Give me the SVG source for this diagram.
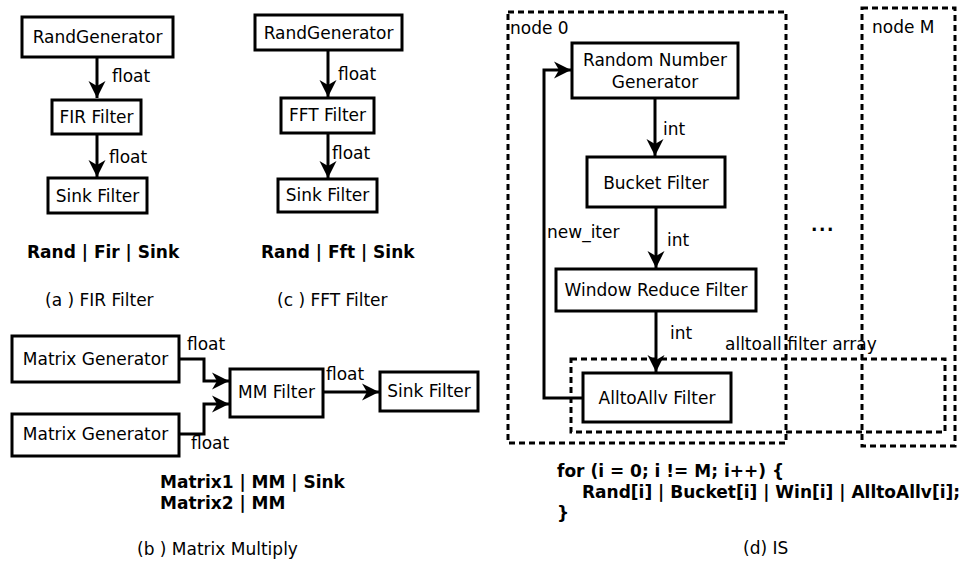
<svg xmlns="http://www.w3.org/2000/svg" width="974" height="567" viewBox="0 0 974 567">
<style>
text{font-family:"DejaVu Sans",sans-serif;font-size:17px;fill:#000}
.b{font-weight:bold}
.c{text-anchor:middle}
.box{fill:#fff;stroke:#000;stroke-width:3}
.dash{fill:none;stroke:#000;stroke-width:3;stroke-dasharray:6,4}
.edge{fill:none;stroke:#000;stroke-width:3}
</style>
<defs>
<marker id="ah" markerUnits="userSpaceOnUse" viewBox="-18 -9 19 18" refX="0" refY="0" markerWidth="19" markerHeight="18" orient="auto">
<path d="M0,0 L-17,-8.5 L-12,0 L-17,8.5 Z" fill="#000"/>
</marker>
</defs>
<rect width="974" height="567" fill="#fff"/>

<!-- panel d containers -->
<g id="node0">
<rect class="dash" x="508" y="12" width="278" height="431"/>
<text x="510" y="34">node 0</text>
</g>
<g id="nodeM">
<rect class="dash" x="862" y="8" width="93" height="438"/>
<text x="872" y="33">node M</text>
</g>
<g id="alltoall-array">
<rect class="dash" x="571" y="359" width="374" height="73"/>
<text x="725" y="350">alltoall filter array</text>
</g>
<text class="b" x="811" y="231" font-size="28" letter-spacing="1.5">...</text>

<g id="connectors">
<line class="edge" x1="97" y1="58" x2="97" y2="98" marker-end="url(#ah)"/>
<line class="edge" x1="97" y1="135" x2="97" y2="177" marker-end="url(#ah)"/>
<line class="edge" x1="328" y1="51" x2="328" y2="97" marker-end="url(#ah)"/>
<line class="edge" x1="328" y1="134" x2="328" y2="178" marker-end="url(#ah)"/>
<polyline class="edge" points="180,359 204,359 204,381 229,381" marker-end="url(#ah)"/>
<polyline class="edge" points="180,434 204,434 204,404 229,404" marker-end="url(#ah)"/>
<line class="edge" x1="324" y1="392" x2="379" y2="392" marker-end="url(#ah)"/>
<line class="edge" x1="655" y1="99" x2="655" y2="156" marker-end="url(#ah)"/>
<line class="edge" x1="656" y1="208" x2="656" y2="268" marker-end="url(#ah)"/>
<line class="edge" x1="656" y1="312" x2="656" y2="372" marker-end="url(#ah)"/>
<polyline class="edge" points="583,398 544,398 544,70 571,70" marker-end="url(#ah)"/>
<text x="112" y="82">float</text>
<text x="109" y="163">float</text>
<text x="338" y="80">float</text>
<text x="332" y="159">float</text>
<text x="187" y="350">float</text>
<text x="191" y="449">float</text>
<text x="326" y="380">float</text>
<text x="663" y="135">int</text>
<text x="667" y="246">int</text>
<text x="670" y="339">int</text>
<text x="547" y="238">new_iter</text>
</g>

<!-- panel a -->
<g id="a-rand"><rect class="box" x="22" y="17" width="151" height="40"/><text class="c" x="97.5" y="43">RandGenerator</text></g>
<g id="a-fir"><rect class="box" x="52" y="100" width="89" height="34"/><text class="c" x="96.5" y="123">FIR Filter</text></g>
<g id="a-sink"><rect class="box" x="48" y="178" width="99" height="35"/><text class="c" x="97.5" y="202">Sink Filter</text></g>
<text class="b" x="27" y="258">Rand | Fir | Sink</text>
<text x="45" y="306">(a ) FIR Filter</text>

<!-- panel c -->
<g id="c-rand"><rect class="box" x="255" y="15" width="147" height="35"/><text class="c" x="328.5" y="39">RandGenerator</text></g>
<g id="c-fft"><rect class="box" x="281" y="98" width="93" height="35"/><text class="c" x="327.5" y="121">FFT Filter</text></g>
<g id="c-sink"><rect class="box" x="278" y="179" width="99" height="33"/><text class="c" x="327.5" y="201">Sink Filter</text></g>
<text class="b" x="261" y="258">Rand | Fft | Sink</text>
<text x="277" y="306">(c ) FFT Filter</text>

<!-- panel b -->
<g id="b-mg1"><rect class="box" x="12" y="336" width="167" height="46"/><text class="c" x="95.5" y="365">Matrix Generator</text></g>
<g id="b-mg2"><rect class="box" x="12" y="414" width="167" height="42"/><text class="c" x="95.5" y="440">Matrix Generator</text></g>
<g id="b-mm"><rect class="box" x="230" y="369" width="93" height="48"/><text class="c" x="276.5" y="398">MM Filter</text></g>
<g id="b-sink"><rect class="box" x="380" y="372" width="98" height="39"/><text class="c" x="429" y="397">Sink Filter</text></g>
<text class="b" x="160" y="488">Matrix1 | MM | Sink</text>
<text class="b" x="160" y="509">Matrix2 | MM</text>
<text x="137" y="555">(b ) Matrix Multiply</text>

<!-- panel d nodes -->
<g id="d-rng"><rect class="box" x="572" y="43" width="166" height="55"/><text class="c" x="655" y="66">Random Number</text><text class="c" x="655" y="88">Generator</text></g>
<g id="d-bucket"><rect class="box" x="587" y="157" width="138" height="50"/><text class="c" x="656" y="189">Bucket Filter</text></g>
<g id="d-window"><rect class="box" x="556" y="269" width="200" height="42"/><text class="c" x="656" y="296">Window Reduce Filter</text></g>
<g id="d-alltoall"><rect class="box" x="583" y="373" width="148" height="49"/><text class="c" x="657" y="404">AlltoAllv Filter</text></g>
<text class="b" x="557" y="477" font-size="17.4">for (i = 0; i != M; i++) {</text>
<text class="b" x="582" y="498" font-size="17.4">Rand[i] | Bucket[i] | Win[i] | AlltoAllv[i];</text>
<text class="b" x="557" y="519" font-size="17.4">}</text>
<text x="743" y="554">(d) IS</text>
</svg>
